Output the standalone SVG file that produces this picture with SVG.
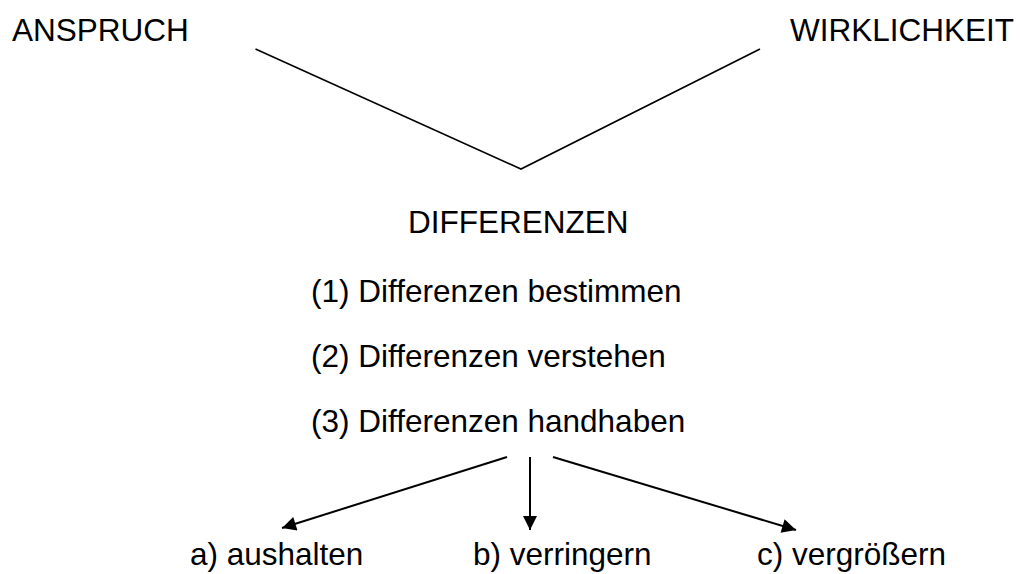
<svg xmlns="http://www.w3.org/2000/svg" width="1021" height="574" viewBox="0 0 1021 574">
  <defs>
    <style>
      .lbl { font-family: "Liberation Sans", Arial, sans-serif; font-size: 31.5px; fill: #000; }
      .v { fill: none; stroke: #000; stroke-width: 1.6; }
      .arr { fill: none; stroke: #000; stroke-width: 2; marker-end: url(#head); }
    </style>
    <marker id="head" viewBox="0 0 10 10" refX="10" refY="5" markerWidth="8" markerHeight="7" markerUnits="strokeWidth" orient="auto">
      <path d="M0,0 L10,5 L0,10 Z" fill="#000"/>
    </marker>
  </defs>
  <rect width="1021" height="574" fill="#fff"/>

  <g id="anspruch"><text class="lbl" x="12" y="41">ANSPRUCH</text></g>
  <g id="wirklichkeit"><text class="lbl" x="790" y="41">WIRKLICHKEIT</text></g>
  <g id="differenzen"><text class="lbl" x="408" y="233">DIFFERENZEN</text></g>
  <g id="step1"><text class="lbl" x="311" y="302">(1) Differenzen bestimmen</text></g>
  <g id="step2"><text class="lbl" x="311" y="367">(2) Differenzen verstehen</text></g>
  <g id="step3"><text class="lbl" x="311" y="432">(3) Differenzen handhaben</text></g>
  <g id="opt-a"><text class="lbl" x="190" y="565">a) aushalten</text></g>
  <g id="opt-b"><text class="lbl" x="473" y="565">b) verringern</text></g>
  <g id="opt-c"><text class="lbl" x="757" y="565">c) vergrößern</text></g>

  <g id="connectors">
    <polyline class="v" points="255.5,49 521,169 760,49"/>
    <line class="arr" x1="507" y1="457" x2="282" y2="528"/>
    <line class="arr" x1="530" y1="457" x2="530" y2="530"/>
    <line class="arr" x1="553" y1="457" x2="796" y2="530"/>
  </g>
</svg>
